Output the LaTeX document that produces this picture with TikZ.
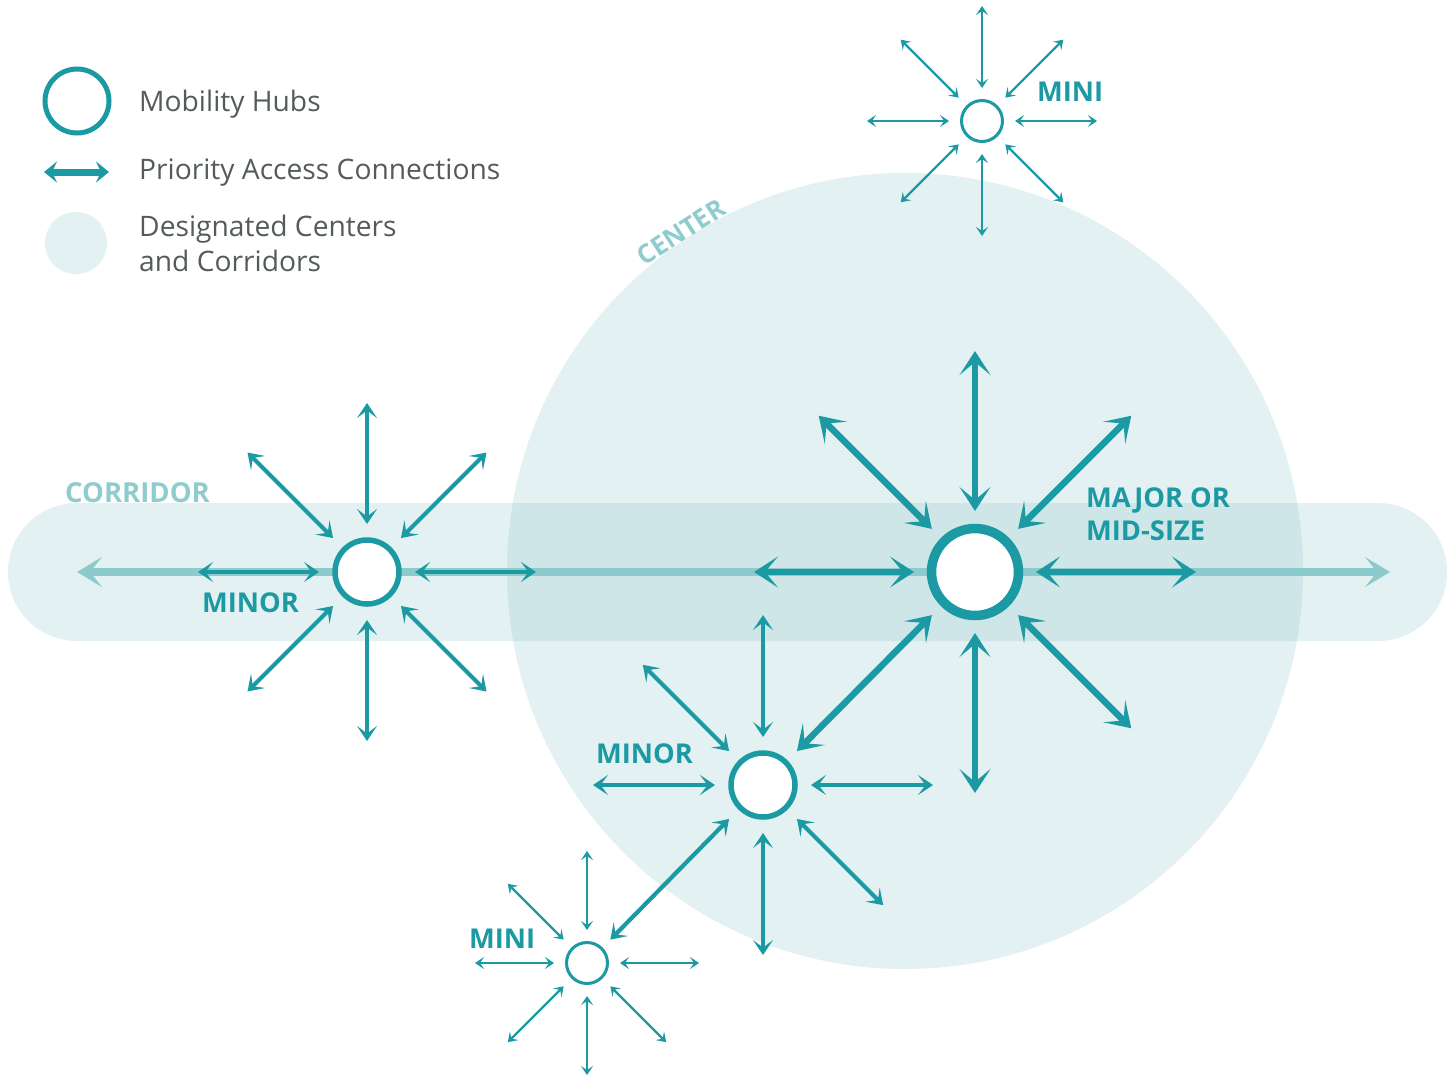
\documentclass[tikz,border=0pt]{standalone}
\usepackage{fontspec}
\setmainfont{Open Sans}
\usetikzlibrary{arrows.meta,calc}
\definecolor{tealA}{HTML}{1C9AA4}
\definecolor{zonefill}{HTML}{E3F1F2}
\definecolor{zonedark}{HTML}{CFE6E8}
\definecolor{zonelabel}{HTML}{8FCCCE}
\definecolor{corrline}{HTML}{8CCACC}
\definecolor{legtext}{HTML}{555B5C}
\begin{document}
\begin{tikzpicture}[x=1pt,y=-1pt,
  hubring/.style={circle, draw=tealA, fill=white, inner sep=0pt},
  majhub/.style={hubring, line width=9.5pt, minimum size=87pt},
  mnrhub/.style={hubring, line width=5.5pt, minimum size=64pt},
  minihub/.style={hubring, line width=3pt, minimum size=41pt},
  majarrow/.style={draw=tealA, line width=6.5pt,
    {Stealth[length=24pt,width=31pt,inset=13pt]}-{Stealth[length=24pt,width=31pt,inset=13pt]}},
  mnrarrow/.style={draw=tealA, line width=4.2pt,
    {Stealth[length=15pt,width=20pt,inset=7.5pt]}-{Stealth[length=15pt,width=20pt,inset=7.5pt]}},
  miniarrow/.style={draw=tealA, line width=2.4pt,
    {Stealth[length=9pt,width=12pt,inset=4pt]}-{Stealth[length=9pt,width=12pt,inset=4pt]}},
  corrarrow/.style={draw=corrline, line width=8.5pt,
    {Stealth[length=25pt,width=30pt,inset=12pt]}-{Stealth[length=25pt,width=30pt,inset=12pt]}},
  legarrow/.style={draw=tealA, line width=7pt,
    {Stealth[length=13pt,width=21pt,inset=5pt]}-{Stealth[length=13pt,width=21pt,inset=5pt]}},
  hublabel/.style={anchor=base west, inner sep=0pt, text=tealA, font=\bfseries\fontsize{27.3}{32}\selectfont},
  zonelab/.style={inner sep=0pt, text=zonelabel, font=\bfseries\fontsize{27.5}{32}\selectfont},
  legtxt/.style={anchor=base west, inner sep=0pt, text=legtext, font=\fontsize{28.2}{33}\selectfont},
]
\useasboundingbox (0,0) rectangle (1447,1076);
\fill[white] (0,0) rectangle (1447,1076);

% zones
\fill[zonefill] (905,571) circle[radius=398];
\fill[zonefill, rounded corners=69pt] (8,503) rectangle (1447,641);
\begin{scope}
  \clip (905,571) circle[radius=398];
  \fill[zonedark, rounded corners=69pt] (8,503) rectangle (1447,641);
\end{scope}

% corridor arrow
\coordinate (corrL) at (77,572);
\coordinate (corrR) at (1390,572);
\draw[corrarrow] (corrL) -- (corrR);

% zone labels
\node[zonelab, anchor=base west] (corrlab) at (65,502) {CORRIDOR};
\node[zonelab, rotate=33, font=\bfseries\fontsize{26}{30}\selectfont] (cenlab) at (681,232) {CENTER};

% hubs
\node[majhub] (maj) at (975,572) {};
\node[mnrhub] (mnl) at (367,572) {};
\node[mnrhub] (mnd) at (763,785) {};
\node[minihub] (mit) at (982,121) {};
\node[minihub] (mib) at (587,963) {};

% arrow end coordinates
\foreach \a in {0,45,...,315} {
  \coordinate (maj-i\a) at ($(maj)+(\a:61)$);
  \coordinate (maj-o\a) at ($(maj)+(\a:221)$);
  \coordinate (mnl-i\a) at ($(mnl)+(\a:48)$);
  \coordinate (mnl-o\a) at ($(mnl)+(\a:169)$);
  \coordinate (mnd-i\a) at ($(mnd)+(\a:48)$);
  \coordinate (mnd-o\a) at ($(mnd)+(\a:170)$);
  \coordinate (mit-i\a) at ($(mit)+(\a:33)$);
  \coordinate (mit-o\a) at ($(mit)+(\a:115)$);
  \coordinate (mib-i\a) at ($(mib)+(\a:33)$);
  \coordinate (mib-o\a) at ($(mib)+(\a:112)$);
}

% major hub arrows
\foreach \a in {0,45,90,180,225,270,315}
  \draw[majarrow] (maj-i\a) -- (maj-o\a);
\draw[majarrow] (maj-i135) -- (mnd-i315);

% minor left
\foreach \a in {0,45,...,315}
  \draw[mnrarrow] (mnl-i\a) -- (mnl-o\a);

% minor lower
\foreach \a in {0,45,90,180,225,270}
  \draw[mnrarrow] (mnd-i\a) -- (mnd-o\a);
\draw[mnrarrow] (mnd-i135) -- (mib-i315);

% mini top
\foreach \a in {0,45,...,315}
  \draw[miniarrow] (mit-i\a) -- (mit-o\a);

% mini bottom
\foreach \a in {0,45,90,135,180,225,270}
  \draw[miniarrow] (mib-i\a) -- (mib-o\a);

% hub labels
\node[hublabel] (lab-mit) at (1037,101) {MINI};
\node[hublabel] (lab-maj) at (1086,507) {MAJOR OR};
\node[hublabel] (lab-maj2) at (1086,540) {MID-SIZE};
\node[hublabel] (lab-mnl) at (202,612) {MINOR};
\node[hublabel] (lab-mnd) at (596,763) {MINOR};
\node[hublabel] (lab-mib) at (469,948) {MINI};

% legend
\node[hubring, line width=5pt, minimum size=64pt] (leg-hub) at (77,101) {};
\coordinate (leg-a1) at (44,172);
\coordinate (leg-a2) at (109,172);
\draw[legarrow] (leg-a1) -- (leg-a2);
\node[circle, fill=zonefill, minimum size=62pt, inner sep=0pt] (leg-zone) at (76,243) {};
\node[legtxt] (leg-t1) at (139,111) {Mobility Hubs};
\node[legtxt] (leg-t2) at (139,179) {Priority Access Connections};
\node[legtxt] (leg-t3) at (139,236) {Designated Centers};
\node[legtxt] (leg-t4) at (139,271) {and Corridors};
\end{tikzpicture}
\end{document}
